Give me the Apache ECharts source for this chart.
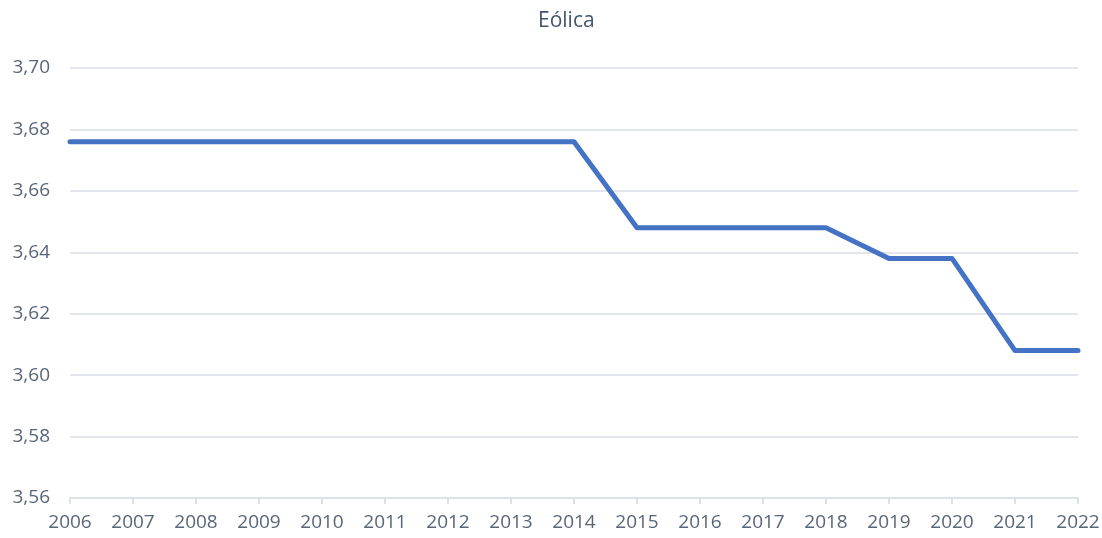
<!DOCTYPE html>
<html>
<head>
<meta charset="utf-8">
<script src="https://cdn.jsdelivr.net/npm/echarts@6/dist/echarts.min.js"></script>
<style>
  html, body { margin: 0; padding: 0; background: #fff; }
  #chart { width: 1102px; height: 538px; }
</style>
</head>
<body>
<div id="chart"></div>
<script>
// datos
const years = ["2006", "2007", "2008", "2009", "2010", "2011", "2012", "2013", "2014",
  "2015", "2016", "2017", "2018", "2019", "2020", "2021", "2022"];
const eolica = [3.676, 3.676, 3.676, 3.676, 3.676, 3.676, 3.676, 3.676, 3.676,
  3.648, 3.648, 3.648, 3.648, 3.638, 3.638, 3.608, 3.608];

const myChart = echarts.init(document.getElementById("chart"));
const option = {
  animation: false,
  title: {
    text: "Eólica",
    left: 533,
    top: 6,
    textStyle: {
      fontFamily: "Open Sans",
      fontSize: 21,
      fontWeight: "normal",
      color: "#44546a",
    },
  },
  grid: {
    left: 70,
    right: 24,
    top: 68,
    bottom: 40,
    outerBoundsMode: "none",
  },
  xAxis: {
    type: "category",
    data: years,
    boundaryGap: false,
    axisLine: { lineStyle: { color: "#dde1e8", width: 2 } },
    axisTick: { show: true, length: 6, lineStyle: { color: "#dde1e8", width: 2 } },
    axisLabel: {
      interval: 0,
      margin: 15,
      fontFamily: "Open Sans",
      fontSize: 19,
      color: "#596579",
    },
    splitLine: { show: false },
  },
  yAxis: {
    type: "value",
    min: 3.56,
    max: 3.7,
    interval: 0.02,
    axisLine: { show: false },
    axisTick: { show: false },
    axisLabel: {
      margin: 20,
      fontFamily: "Open Sans",
      fontSize: 19,
      color: "#596579",
      formatter: (v) => v.toFixed(2).replace(".", ","),
    },
    splitLine: { lineStyle: { color: "#e3e6ec", width: 2 } },
  },
  series: [
    {
      name: "Eólica",
      type: "line",
      data: eolica,
      symbol: "none",
      lineStyle: { color: "#4472c4", width: 5, cap: "round", join: "round" },
    },
  ],
};
myChart.setOption(option);
</script>
</body>
</html>
